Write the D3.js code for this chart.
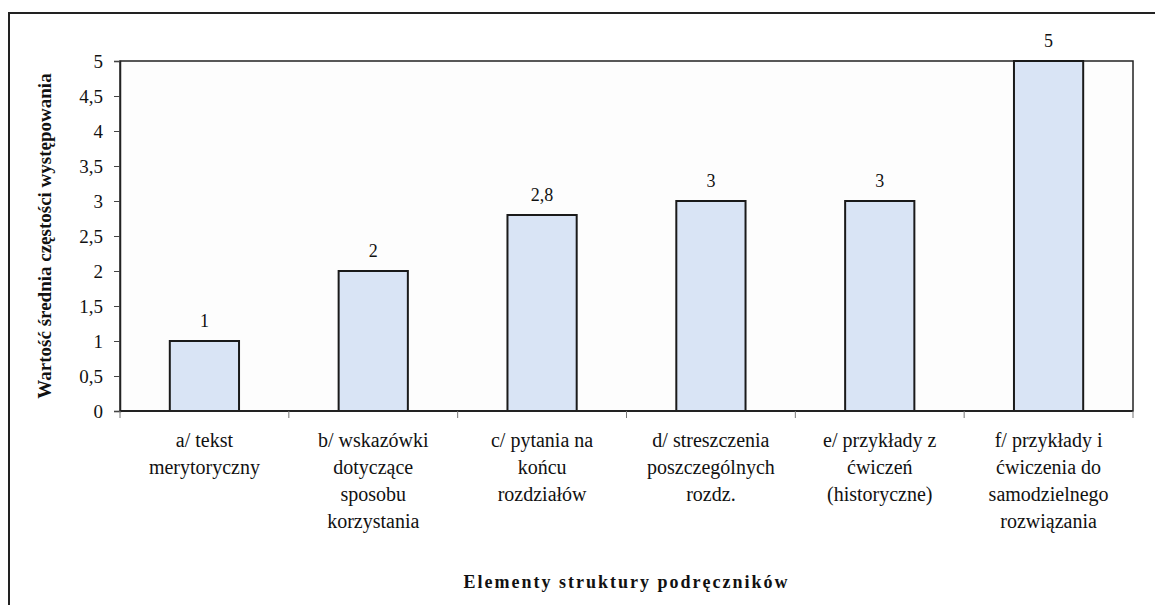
<!DOCTYPE html>
<html>
<head>
<meta charset="utf-8">
<script src="https://cdn.jsdelivr.net/npm/d3@7"></script>
<style>
  body { margin: 0; background: #fff; }
</style>
</head>
<body>
<script>
// chart data
var categories = [
	["a/ tekst", "merytoryczny"],
	["b/ wskazówki", "dotyczące", "sposobu", "korzystania"],
	["c/ pytania na", "końcu", "rozdziałów"],
	["d/ streszczenia", "poszczególnych", "rozdz."],
	["e/ przykłady z", "ćwiczeń", "(historyczne)"],
	["f/ przykłady i", "ćwiczenia do", "samodzielnego", "rozwiązania"]
];
var values = [1, 2, 2.8, 3, 3, 5];
var yTicks = [0, 0.5, 1, 1.5, 2, 2.5, 3, 3.5, 4, 4.5, 5];
var yTitle = "Wartość średnia częstości występowania";
var xTitle = "Elementy struktury podręczników";

var serif = "Liberation Serif";
var width = 1155, height = 605;
var margin = {top: 61, right: 22, bottom: 194, left: 120};
var plotW = width - margin.left - margin.right;
var plotH = height - margin.top - margin.bottom;

var svg = d3.select("body").append("svg")
	.attr("width", width)
	.attr("height", height)
	.attr("font-family", serif);

// outer frame (runs off the page on right and bottom)
svg.append("rect")
	.attr("x", 9).attr("y", 13)
	.attr("width", 1200).attr("height", 700)
	.attr("fill", "none")
	.attr("stroke", "#222")
	.attr("stroke-width", 2);

var canvas = svg.append("g")
	.attr("transform", "translate(" + margin.left + "," + margin.top + ")");

var idx = d3.range(categories.length);
var xScale = d3.scaleBand()
	.domain(idx)
	.range([0, plotW])
	.paddingInner(0.59)
	.paddingOuter(0.295);

var yScale = d3.scaleLinear()
	.domain([0, 5])
	.range([plotH, 0]);

var fmt = function(d) { return String(d).replace(".", ","); };

// plot frame
canvas.append("rect")
	.attr("width", plotW).attr("height", plotH)
	.attr("fill", "#fdfdfd")
	.attr("stroke", "#222")
	.attr("stroke-width", 1.5);

// bars
canvas.selectAll(".bar")
	.data(values)
	.enter().append("rect")
	.attr("class", "bar")
	.attr("x", function(d, i) { return xScale(i); })
	.attr("y", function(d) { return yScale(d); })
	.attr("width", xScale.bandwidth())
	.attr("height", function(d) { return plotH - yScale(d); })
	.attr("fill", "#d9e4f5")
	.attr("stroke", "#1a1a1a")
	.attr("stroke-width", 2);

// value labels
canvas.selectAll(".val")
	.data(values)
	.enter().append("text")
	.attr("class", "val")
	.attr("x", function(d, i) { return xScale(i) + xScale.bandwidth() / 2; })
	.attr("y", function(d) { return yScale(d) - 14; })
	.attr("text-anchor", "middle")
	.attr("font-size", 18)
	.attr("fill", "#111")
	.text(function(d) { return fmt(d); });

// y axis
var yAxis = canvas.append("g")
	.call(d3.axisLeft(yScale).tickValues(yTicks).tickFormat(fmt).tickSize(6).tickPadding(11));
yAxis.attr("font-family", serif).attr("font-size", 19);
yAxis.select(".domain").attr("stroke", "#222").attr("stroke-width", 1.5);
yAxis.selectAll(".tick line").attr("stroke", "#444");
yAxis.selectAll("text").attr("fill", "#111");

// x axis: ticks at category boundaries
var step = plotW / categories.length;
var bounds = d3.range(categories.length + 1).map(function(i) { return i * step; });
var xAxisG = canvas.append("g")
	.attr("transform", "translate(0," + plotH + ")");
xAxisG.append("line")
	.attr("x1", 0).attr("x2", plotW)
	.attr("stroke", "#222").attr("stroke-width", 2);
xAxisG.selectAll(".btick")
	.data(bounds)
	.enter().append("line")
	.attr("x1", function(d) { return d; })
	.attr("x2", function(d) { return d; })
	.attr("y1", 0).attr("y2", 7)
	.attr("stroke", "#777");

// category labels (multi-line)
var labels = xAxisG.selectAll(".cat")
	.data(categories)
	.enter().append("text")
	.attr("class", "cat")
	.attr("text-anchor", "middle")
	.attr("font-size", 20)
	.attr("fill", "#111")
	.attr("transform", function(d, i) {
		return "translate(" + (xScale(i) + xScale.bandwidth() / 2) + ",36)";
	});
labels.selectAll("tspan")
	.data(function(d) { return d; })
	.enter().append("tspan")
	.attr("x", 0)
	.attr("dy", function(d, i) { return i == 0 ? 0 : 27; })
	.text(function(d) { return d; });

// axis titles
canvas.append("text")
	.attr("x", plotW / 2)
	.attr("y", plotH + 177)
	.attr("text-anchor", "middle")
	.attr("font-size", 18)
	.attr("font-weight", "bold")
	.attr("letter-spacing", "2px")
	.attr("fill", "#111")
	.text(xTitle);

canvas.append("text")
	.attr("transform", "translate(" + (-69) + "," + (plotH / 2) + ") rotate(-90)")
	.attr("text-anchor", "middle")
	.attr("font-size", 19)
	.attr("font-weight", "bold")
	.attr("fill", "#111")
	.text(yTitle);
</script>
</body>
</html>
